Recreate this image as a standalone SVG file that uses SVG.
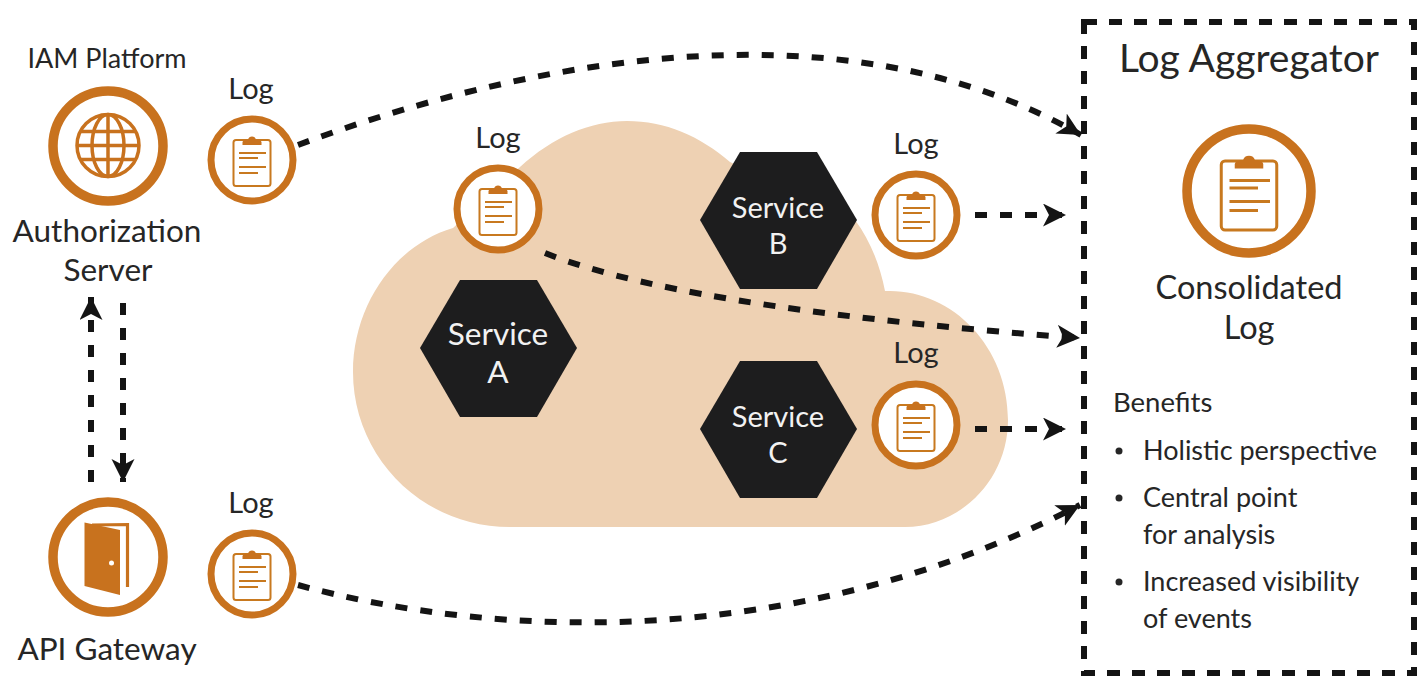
<svg xmlns="http://www.w3.org/2000/svg" xmlns:xlink="http://www.w3.org/1999/xlink" width="1428" height="696" viewBox="0 0 1428 696">
<style>
text{font-family:"Lato","Noto Sans",sans-serif;fill:#262626;text-anchor:middle}
.l{font-size:31.5px}.s{font-size:29px}.h{font-size:31.5px;fill:#f2f2f2}.h2{font-size:29px;fill:#f2f2f2}.b{font-size:27px;text-anchor:start}
.ring{fill:#fff;stroke:#c8721e}
.big{stroke-width:9.5}.small{stroke-width:7}
.hex{fill:#1d1d1e}
.d{fill:none;stroke:#141414;stroke-width:6;stroke-dasharray:12 13}
.clip{fill:none;stroke:#c8791f;stroke-width:2}
</style>
<defs>
<marker id="a" markerUnits="userSpaceOnUse" markerWidth="30" markerHeight="30" refX="23" refY="11.500" orient="auto"><path d="M0,0L23,11.500L0,23L6,11.500Z" fill="#141414"/></marker>
<g id="clip">
<rect class="clip" x="-18.500" y="-20" width="37" height="46" rx="2.500"/>
<path d="M-9.500,-15L-9.500,-18Q-9,-20.500 -4,-20.500A4.200,4.200 0 0 1 4,-20.500Q9,-20.500 9.500,-18L9.500,-15Z" fill="#c8721e"/>
<path class="clip" d="M-13,-7H14M-13,-2H6M-13,7H14M-13,13H6"/>
</g>
</defs>
<path id="cloud" fill="#eed1b3" d="M510,527C420,527 353,455 353,372C353,305 395,245 453,228L520,167C553,137 590,121 627,121C665,121 700,136 730,162L855,220C870,240 880,265 885,291C950,288 1008,345 1008,420C1008,480 960,527 905,527Z"/>
<g id="connectors">
<path class="d" marker-end="url(#a)" d="M298,145C520,62 840,-3 1081,135"/>
<path class="d" marker-end="url(#a)" d="M298,585C500,640 800,650 1080,505"/>
<path class="d" marker-end="url(#a)" d="M545,253C650,295 860,322 1080,338"/>
<path class="d" marker-end="url(#a)" d="M975,215H1066"/>
<path class="d" marker-end="url(#a)" d="M975,429H1066"/>
<path class="d" marker-end="url(#a)" d="M91,482V297"/>
<path class="d" marker-end="url(#a)" d="M123,303V482"/>
</g>
<g id="iam">
<text font-size="27" x="107" y="68">IAM Platform</text>
<circle class="ring big" cx="108" cy="146" r="55"/>
<g fill="none" stroke="#c8721e" stroke-width="3.500">
<circle cx="108" cy="145.500" r="31"/><ellipse cx="108" cy="145.500" rx="16" ry="31"/>
<path d="M108,114.500V176.500M77,145.500H139M80.500,131.500H135.500M80.500,159.500H135.500"/>
</g>
<text class="l" x="107" y="242">Authorization</text>
<text class="l" x="108" y="281">Server</text>
</g>
<g id="gateway">
<circle class="ring big" cx="108" cy="557" r="55"/>
<path fill="#c8721e" d="M84.500,522.500L120,530V595L84.500,586Z"/>
<path fill="none" stroke="#c8721e" stroke-width="3.200" d="M92,525L127.500,524.500V587"/>
<circle cx="111.500" cy="563" r="2.500" fill="#fff"/>
<text class="l" x="107" y="660">API Gateway</text>
</g>
<g id="log1"><text class="s" x="251" y="99">Log</text><circle class="ring small" cx="252" cy="160" r="41"/><use xlink:href="#clip" href="#clip" x="252" y="160"/></g>
<g id="log2"><text class="s" x="251" y="513">Log</text><circle class="ring small" cx="252" cy="574" r="41"/><use xlink:href="#clip" href="#clip" x="252" y="574"/></g>
<g id="log3"><text class="s" x="498" y="148">Log</text><circle class="ring small" cx="498" cy="209" r="41"/><use xlink:href="#clip" href="#clip" x="498" y="209"/></g>
<g id="log4"><text class="s" x="916" y="154">Log</text><circle class="ring small" cx="916" cy="215" r="41"/><use xlink:href="#clip" href="#clip" x="916" y="215"/></g>
<g id="log5"><text class="s" x="916" y="363">Log</text><circle class="ring small" cx="916" cy="425" r="41"/><use xlink:href="#clip" href="#clip" x="916" y="425"/></g>
<g id="service-a"><polygon class="hex" points="420,348 460,280 537,280 577,348 537,417 460,417"/><text class="h" x="498" y="345">Service</text><text class="h" x="498" y="383">A</text></g>
<g id="service-b"><polygon class="hex" points="700,220 740,152 817,152 857,220 817,289 740,289"/><text class="h2" x="778" y="218">Service</text><text class="h2" x="778" y="254">B</text></g>
<g id="service-c"><polygon class="hex" points="700,429 740,361 817,361 857,429 817,498 740,498"/><text class="h2" x="778" y="427">Service</text><text class="h2" x="778" y="463">C</text></g>
<g id="aggregator">
<rect x="1084" y="22" width="330" height="651" fill="none" stroke="#141414" stroke-width="6" stroke-dasharray="13 12"/>
<text x="1249" y="72" font-size="39">Log Aggregator</text>
<circle class="ring big" cx="1249" cy="191" r="62"/>
<use xlink:href="#clip" href="#clip" transform="translate(1249 191) scale(1.5)"/>
<text font-size="32.500" x="1249" y="299">Consolidated</text>
<text font-size="32.500" x="1249" y="339">Log</text>
<text font-size="27.500" style="text-anchor:start" x="1113" y="412">Benefits</text>
<circle cx="1119" cy="451" r="3.500" fill="#262626"/>
<text class="b" x="1143" y="460">Holistic perspective</text>
<circle cx="1119" cy="498" r="3.500" fill="#262626"/>
<text class="b" x="1143" y="507">Central point</text>
<text class="b" x="1143" y="544">for analysis</text>
<circle cx="1119" cy="582" r="3.500" fill="#262626"/>
<text class="b" x="1143" y="591">Increased visibility</text>
<text class="b" x="1143" y="628">of events</text>
</g>
</svg>
